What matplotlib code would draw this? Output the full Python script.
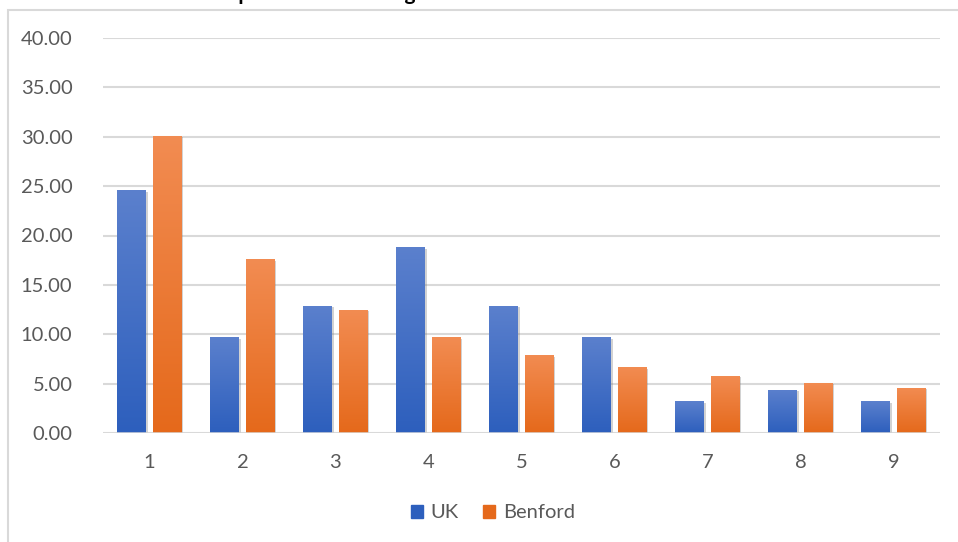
import matplotlib
matplotlib.use("Agg")
import matplotlib.pyplot as plt
import matplotlib.patches as mpatches
import matplotlib.colors as mcolors
import matplotlib.patheffects as pe
import numpy as np

DIGITOS = [1, 2, 3, 4, 5, 6, 7, 8, 9]
UK      = [24.6, 9.7, 12.9, 18.8, 12.9, 9.7, 3.2, 4.4, 3.2]
BENFORD = [30.1, 17.6, 12.5, 9.7, 7.9, 6.7, 5.8, 5.1, 4.6]
Y_TICKS = [0, 5, 10, 15, 20, 25, 30, 35, 40]

TITULO = "Comparison of First Digit Distribution"

COR_UK      = ("#5b80cd", "#2d5fbd")   # topo, base
COR_BENFORD = ("#f28c52", "#e5691b")
COR_GRID    = "#d9d9d9"
COR_TEXTO   = "#595959"

plt.rcParams["font.family"] = ["Lato", "DejaVu Sans"]


def barras_gradiente(ax, xs, vals, largura, cores):
    cmap = mcolors.LinearSegmentedColormap.from_list("g", list(cores))
    grad = np.linspace(0, 1, 256).reshape(-1, 1)
    bars = ax.bar(xs, vals, largura, color=cores[1], linewidth=0, zorder=2)
    for b in bars:
        b.set_path_effects([pe.SimplePatchShadow(offset=(1.2, -1.2),
                                                 shadow_rgbFace="#7f7f7f",
                                                 alpha=0.35),
                            pe.Normal()])
        x0, w, h = b.get_x(), b.get_width(), b.get_height()
        im = ax.imshow(grad, cmap=cmap, aspect="auto", origin="upper",
                       extent=[x0, x0 + w, 0, h], zorder=3)
        im.set_clip_path(b)
    return bars


fig = plt.figure(figsize=(9.58, 5.42), dpi=100)
fig.patch.set_facecolor("white")

# moldura do grafico (cortada a direita e embaixo)
fig.add_artist(mpatches.Rectangle((8 / 958, -0.05), 1.2, 1 - 10 / 542 + 0.05,
                                  transform=fig.transFigure, fill=False,
                                  edgecolor=COR_GRID, linewidth=1.5))

# titulo cortado no topo, so as descendentes aparecem
fig.text(195 / 958, 1 + 0.5 / 542, TITULO, ha="left", va="baseline",
         fontsize=15, fontweight="bold", color="black")

ax = fig.add_axes([103 / 958, 1 - 433 / 542, 837 / 958, 395 / 542])
ax.set_facecolor("white")

x = np.array(DIGITOS, dtype=float)
w = 0.31
barras_gradiente(ax, x - 0.19, UK, w, COR_UK)
barras_gradiente(ax, x + 0.19, BENFORD, w, COR_BENFORD)

ax.set_xlim(0.5, 9.5)
ax.set_ylim(0, 40)
ax.set_yticks(Y_TICKS)
ax.set_yticklabels([f"{v:.2f}" for v in Y_TICKS])
ax.set_xticks(DIGITOS)
ax.set_xticklabels([str(d) for d in DIGITOS])
ax.tick_params(axis="y", length=0, pad=22, labelsize=14.5, labelcolor=COR_TEXTO)
ax.tick_params(axis="x", length=0, pad=15, labelsize=14.5, labelcolor=COR_TEXTO)
ax.grid(axis="y", color=COR_GRID, linewidth=1.5, zorder=0)
ax.set_axisbelow(True)
for s in ax.spines.values():
    s.set_visible(False)
ax.axhline(0, color=COR_GRID, linewidth=1.8, zorder=4)

handles = [mpatches.Patch(color=COR_UK[1], label="UK"),
           mpatches.Patch(color=COR_BENFORD[1], label="Benford")]
fig.legend(handles=handles, loc="center", bbox_to_anchor=(493 / 958, 1 - 513 / 542),
           ncol=2, frameon=False, fontsize=14.5, labelcolor=COR_TEXTO,
           handlelength=0.6, handleheight=0.6, handletextpad=0.4, columnspacing=1.2)

fig.savefig("out.png", dpi=100, facecolor=fig.get_facecolor())
plt.close(fig)
